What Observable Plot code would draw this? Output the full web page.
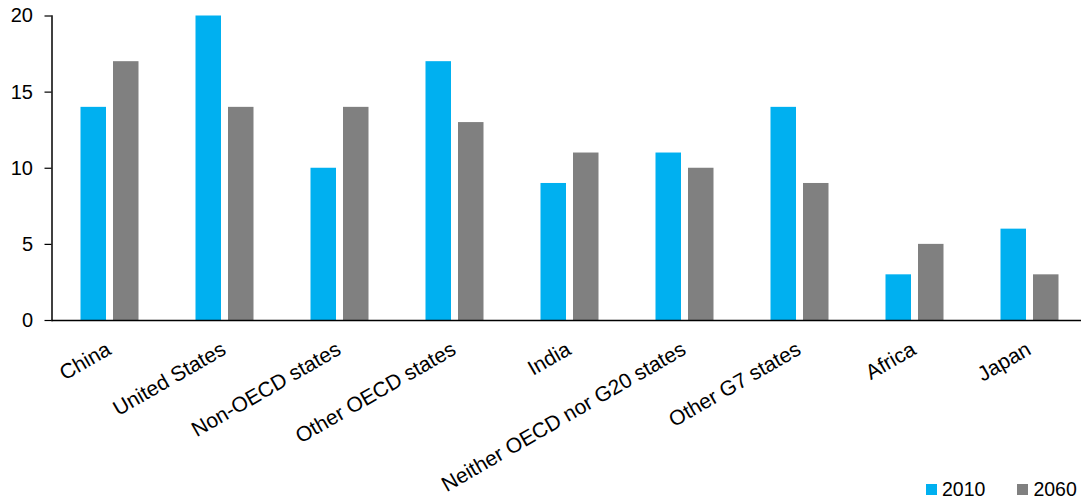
<!DOCTYPE html>
<html>
<head>
<meta charset="utf-8">
<script src="https://cdn.jsdelivr.net/npm/d3@7"></script>
<script src="https://cdn.jsdelivr.net/npm/@observablehq/plot@0.6"></script>
<style>
  html, body { margin: 0; padding: 0; background: #fff; }
  #wrap { position: relative; width: 1081px; height: 499px; font-family: "Liberation Sans", Arial, sans-serif; }
  #legend { position: absolute; left: 926px; top: 478px; display: flex; align-items: center; font-size: 19.5px; color: #000; white-space: nowrap; }
  #legend .item { display: flex; align-items: center; }
  #legend .sw { width: 11px; height: 11px; margin-right: 5px; }
  #legend .item + .item { margin-left: 32px; }
</style>
</head>
<body>
<div id="wrap"></div>
<script>
// Share by region, 2010 vs 2060
const regions = ["China", "United States", "Non-OECD states", "Other OECD states", "India",
  "Neither OECD nor G20 states", "Other G7 states", "Africa", "Japan"];
const values2010 = [14, 20, 10, 17, 9, 11, 14, 3, 6];
const values2060 = [17, 14, 14, 13, 11, 10, 9, 5, 3];
const years = ["2010", "2060"];
const yTicks = [0, 5, 10, 15, 20];
const colors = ["#00B0F0", "#808080"];

const rows = regions.flatMap((r, i) => [
  {region: r, year: years[0], value: values2010[i]},
  {region: r, year: years[1], value: values2060[i]}
]);

// Each category band is 115px; the two bars sit in its middle with a small gap
const step = 115;
const barW = 25.5;
const gap = 7;
const left0 = (step - (2 * barW + gap)) / 2;

const chart = Plot.plot({
  width: 1081,
  height: 499,
  marginLeft: 51.5,
  marginRight: 0,
  marginTop: 15.5,
  marginBottom: 179,
  style: {fontFamily: "Liberation Sans, Arial, sans-serif", fontSize: "20px", color: "#000", background: "#fff"},
  x: {domain: regions, range: [51.5, 51.5 + step * regions.length], padding: 0, label: null},
  y: {domain: [0, 20], label: null},
  color: {domain: years, range: colors},
  marks: [
    Plot.barY(rows.filter(d => d.year === years[0]), {
      x: "region", y: "value", fill: "year",
      insetLeft: left0, insetRight: step - left0 - barW
    }),
    Plot.barY(rows.filter(d => d.year === years[1]), {
      x: "region", y: "value", fill: "year",
      insetLeft: left0 + barW + gap, insetRight: left0
    }),
    Plot.axisY({ticks: yTicks, tickSize: 7, tickPadding: 12, fontSize: 20, label: null, stroke: "#000", strokeWidth: 1.2, strokeOpacity: 1}),
    Plot.axisX({tickSize: 0, tickRotate: -30, tickPadding: 27, dx: -1, fontSize: 21, label: null}),
    Plot.frame({anchor: "left", stroke: "#000", strokeWidth: 1.5}),
    Plot.ruleY([0], {stroke: "#000", strokeWidth: 1.5})
  ]
});

const wrap = document.getElementById("wrap");
wrap.appendChild(chart);

// Legend laid over the bottom-right corner
const color = chart.scale("color");
const legend = document.createElement("div");
legend.id = "legend";
color.domain.forEach((k, i) => {
  const item = document.createElement("div");
  item.className = "item";
  const sw = document.createElement("span");
  sw.className = "sw";
  sw.style.background = color.range[i];
  const label = document.createElement("span");
  label.textContent = k;
  item.appendChild(sw);
  item.appendChild(label);
  legend.appendChild(item);
});
wrap.appendChild(legend);
</script>
</body>
</html>
